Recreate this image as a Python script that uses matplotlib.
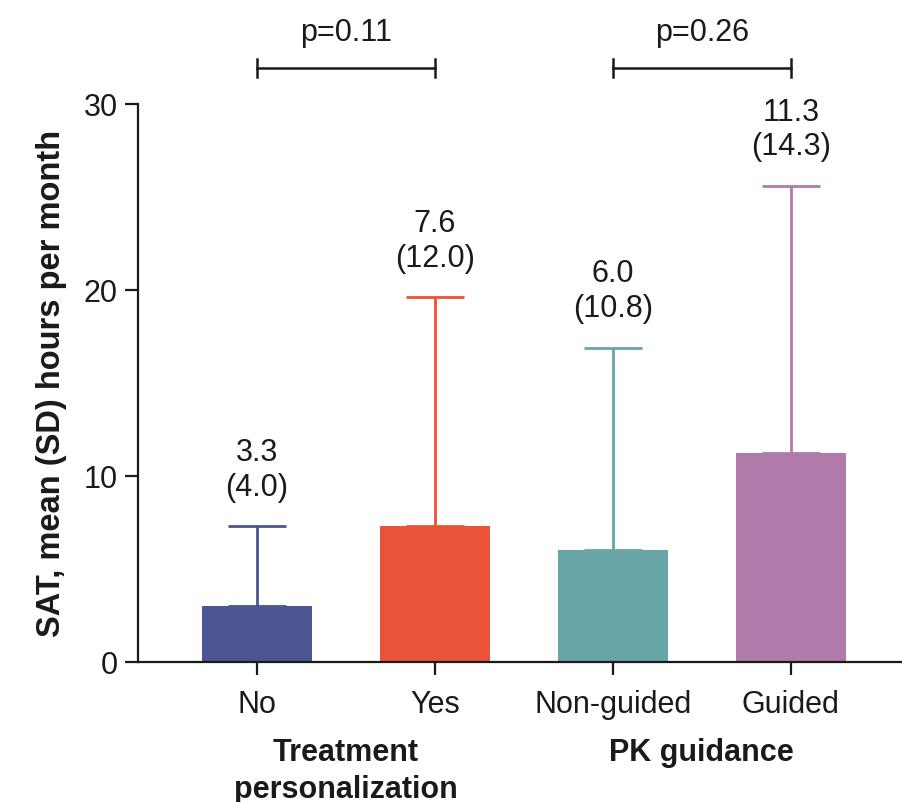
import matplotlib
matplotlib.use("Agg")
import matplotlib.pyplot as plt
import numpy as np

plt.rcParams['font.family'] = ['Liberation Sans', 'DejaVu Sans']

categories = ["No", "Yes", "Non-guided", "Guided"]
bar_heights = [3.0, 7.3, 6.0, 11.25]
error_upper = [4.3, 12.3, 10.9, 14.35]
label_means = ["3.3", "7.6", "6.0", "11.3"]
label_sds = ["(4.0)", "(12.0)", "(10.8)", "(14.3)"]
colors = ["#4B5592", "#E8533A", "#67A5A6", "#B07AAB"]
group_labels = ["Treatment\npersonalization", "PK guidance"]
group_pairs = [(0, 1), (2, 3)]
p_values = ["p=0.11", "p=0.26"]
yticks = [0, 10, 20, 30]

FS = 22
fig = plt.figure(figsize=(9.03, 8.02), dpi=100)
ax = fig.add_axes([138/903, 140/802, (903-138)/903, 558/802])

x = np.arange(len(categories))
ax.bar(x, bar_heights, width=0.62, color=colors, zorder=2)
for i in range(len(x)):
    ax.errorbar(x[i], bar_heights[i], yerr=[[0], [error_upper[i]]], color=colors[i],
                elinewidth=2.0, capsize=21, capthick=2.0, zorder=3)
    top = bar_heights[i] + error_upper[i]
    ax.annotate(label_means[i] + "\n" + label_sds[i], xy=(x[i], top), xytext=(0, 17),
                textcoords='offset points', ha='center', va='bottom', fontsize=FS,
                linespacing=1.2, color='#1a1a1a')

ax.set_xlim(-0.667, 3.63)
ax.set_ylim(0, 30)
ax.set_yticks(yticks)
ax.set_xticks(x)
ax.set_xticklabels(categories)
ax.tick_params(axis='both', length=9.5, width=1.6, labelsize=FS, color='#1a1a1a', labelcolor='#1a1a1a')
ax.tick_params(axis='x', pad=11)
ax.tick_params(axis='y', pad=5)
for s in ['top', 'right']:
    ax.spines[s].set_visible(False)
for s in ['left', 'bottom']:
    ax.spines[s].set_linewidth(1.6)
    ax.spines[s].set_color('#1a1a1a')

ax.set_ylabel("SAT, mean (SD) hours per month", fontsize=23.5, fontweight='bold', labelpad=12,
              color='#1a1a1a')

for (a, b), glab in zip(group_pairs, group_labels):
    ax.annotate(glab, xy=((x[a] + x[b]) / 2, 0), xycoords=('data', 'axes fraction'),
                xytext=(0, -55), textcoords='offset points', ha='center', va='top',
                fontsize=FS, fontweight='bold', linespacing=1.3, color='#1a1a1a',
                annotation_clip=False)

for (a, b), pv in zip(group_pairs, p_values):
    yb = 31.94
    ax.plot([x[a], x[b]], [yb, yb], color='#1a1a1a', lw=1.8, clip_on=False)
    for xx in (x[a], x[b]):
        ax.plot([xx, xx], [yb - 0.5, yb + 0.5], color='#1a1a1a', lw=1.8, clip_on=False)
    ax.text((x[a] + x[b]) / 2, yb + 1.05, pv, ha='center', va='bottom', fontsize=FS,
            color='#1a1a1a', clip_on=False)

fig.savefig("out.png", dpi=100)
